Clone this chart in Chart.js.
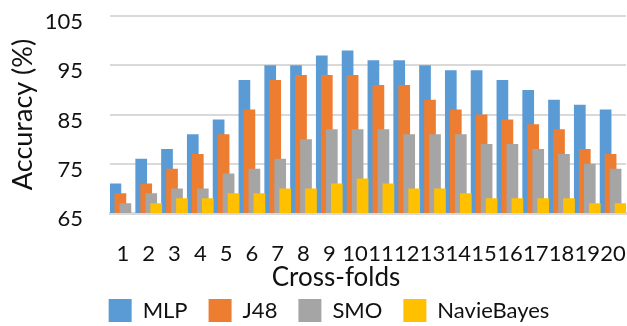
<!DOCTYPE html>
<html>
<head>
<meta charset="utf-8">
<script src="https://cdn.jsdelivr.net/npm/chart.js@4/dist/chart.umd.min.js"></script>
<style>
  html, body { margin: 0; padding: 0; background: #ffffff; }
  canvas { display: block; }
</style>
</head>
<body>
<canvas id="chart" width="627" height="326"></canvas>
<script>
// Accuracy (%) of each classifier per cross-validation fold
const folds = ['1','2','3','4','5','6','7','8','9','10','11','12','13','14','15','16','17','18','19','20'];
const mlp        = [71, 76, 78, 81, 84, 92, 95, 95, 97, 98, 96, 96, 95, 94, 94, 92, 90, 88, 87, 86];
const j48        = [69, 71, 74, 77, 81, 86, 92, 93, 93, 93, 91, 91, 88, 86, 85, 84, 83, 82, 78, 77];
const smo        = [67, 69, 70, 70, 73, 74, 76, 80, 82, 82, 82, 81, 81, 81, 79, 79, 78, 77, 75, 74];
const naiveBayes = [65, 67, 68, 68, 69, 69, 70, 70, 71, 72, 71, 70, 70, 69, 68, 68, 68, 68, 67, 67];
const yTicks = [65, 75, 85, 95, 105];

const FONT = 'Lato';
const TEXT = '#111111';
const GRID = '#d9d9d9';

// Bars of one fold overlap; later series are painted in front of earlier ones.
const paintInSeriesOrder = {
  id: 'paintInSeriesOrder',
  beforeDatasetsDraw(chart) {
    const { ctx, chartArea: a } = chart;
    ctx.save();
    ctx.beginPath();
    ctx.rect(a.left, a.top, a.right - a.left, a.bottom - a.top);
    ctx.clip();
    chart.data.datasets.forEach((ds, i) => {
      const meta = chart.getDatasetMeta(i);
      if (!meta.hidden) meta.controller.draw();
    });
    ctx.restore();
    return false;
  }
};

// Nudge the bottom title and legend to sit under the centre of the bars.
const bottomBlockShift = { title: 23, legend: 16 };
const centreBottomBlocks = {
  id: 'centreBottomBlocks',
  afterLayout(chart) {
    const t = chart.titleBlock, l = chart.legend;
    if (t) { t.left += bottomBlockShift.title; t.right += bottomBlockShift.title; }
    if (l) { l.left += bottomBlockShift.legend; l.right += bottomBlockShift.legend; }
  }
};

const barStyle = { categoryPercentage: 0.775, barPercentage: 2.34, borderWidth: 0 };

new Chart(document.getElementById('chart'), {
  type: 'bar',
  data: {
    labels: folds,
    datasets: [
      { label: 'MLP',        data: mlp,        backgroundColor: '#5b9bd5', ...barStyle },
      { label: 'J48',        data: j48,        backgroundColor: '#ed7d31', ...barStyle },
      { label: 'SMO',        data: smo,        backgroundColor: '#a5a5a5', ...barStyle },
      { label: 'NavieBayes', data: naiveBayes, backgroundColor: '#ffc000', ...barStyle }
    ]
  },
  options: {
    responsive: false,
    animation: false,
    layout: { padding: { top: 16, right: 1, bottom: 0, left: 0 } },
    scales: {
      x: {
        grid: { display: true, color: 'transparent', drawTicks: true, tickLength: 30, tickColor: 'transparent' },
        border: { display: true, color: GRID, width: 3 },
        ticks: {
          color: TEXT, padding: 0, maxRotation: 0, minRotation: 0, autoSkip: false,
          font: { family: FONT, size: 22, lineHeight: 1 }
        }
      },
      y: {
        min: 65, max: 105,
        afterBuildTicks(scale) { scale.ticks = yTicks.map(v => ({ value: v })); },
        afterFit(scale) { scale.width = 110; },
        grid: { color: GRID, lineWidth: 2, drawTicks: true, tickLength: 27, tickColor: 'transparent' },
        border: { display: false },
        ticks: {
          color: TEXT, padding: 0, labelOffset: 6,
          font: { family: FONT, size: 22 }
        },
        title: {
          display: true, text: 'Accuracy (%)', color: TEXT,
          font: { family: FONT, size: 27, lineHeight: 1.2 },
          padding: { top: 7, bottom: 0 }
        }
      }
    },
    plugins: {
      tooltip: { enabled: false },
      title: {
        display: true, text: 'Cross-folds', position: 'bottom', weight: 500,
        color: TEXT, font: { family: FONT, size: 26, weight: 'normal', lineHeight: 1 },
        padding: { top: 0, bottom: -13 }
      },
      legend: {
        position: 'bottom', maxHeight: 48,
        labels: {
          color: TEXT, boxWidth: 23, boxHeight: 23, padding: 21,
          font: { family: FONT, size: 22 }
        }
      }
    }
  },
  plugins: [paintInSeriesOrder, centreBottomBlocks]
});
</script>
</body>
</html>
